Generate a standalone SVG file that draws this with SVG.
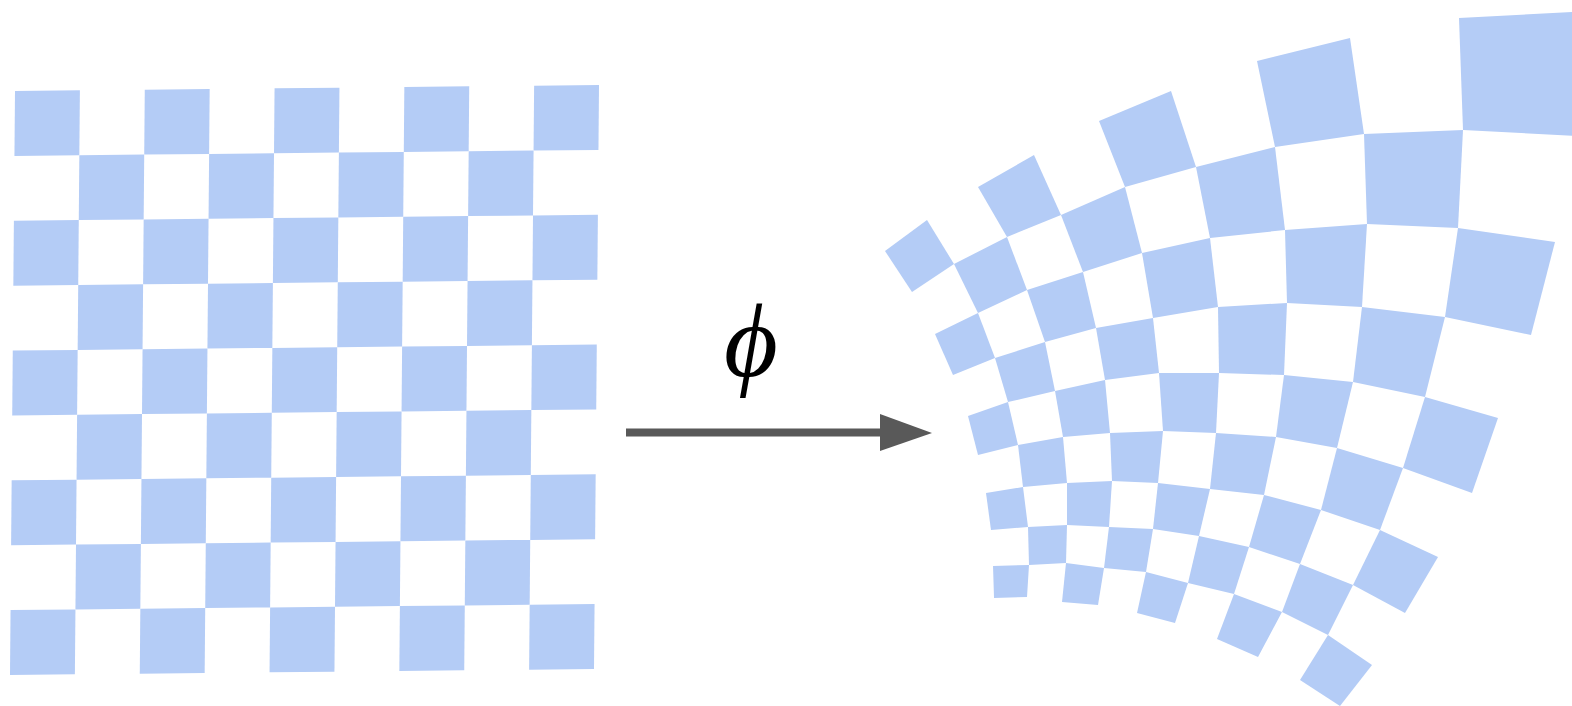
<svg xmlns="http://www.w3.org/2000/svg" width="1572" height="706" viewBox="0 0 1572 706">
<defs>
<style>
.sq{fill:#b4ccf6;stroke:none}
.lbl{font-family:"Liberation Serif","DejaVu Serif",serif;font-style:italic;font-size:104px;fill:#000}
</style>
<marker id="ah" viewBox="0 0 52 37" refX="0" refY="18.5" markerWidth="52" markerHeight="37" markerUnits="userSpaceOnUse" orient="auto">
<path d="M0,0 L52,19 L0,37 Z" fill="#595959"/>
</marker>
</defs>
<rect width="1572" height="706" fill="#fff"/>
<g id="source-grid" transform="matrix(64.89 -0.667 -0.556 64.89 15 91)">
<rect class="sq" x="0" y="0" width="1" height="1"/><rect class="sq" x="2" y="0" width="1" height="1"/><rect class="sq" x="4" y="0" width="1" height="1"/><rect class="sq" x="6" y="0" width="1" height="1"/><rect class="sq" x="8" y="0" width="1" height="1"/>
<rect class="sq" x="1" y="1" width="1" height="1"/><rect class="sq" x="3" y="1" width="1" height="1"/><rect class="sq" x="5" y="1" width="1" height="1"/><rect class="sq" x="7" y="1" width="1" height="1"/>
<rect class="sq" x="0" y="2" width="1" height="1"/><rect class="sq" x="2" y="2" width="1" height="1"/><rect class="sq" x="4" y="2" width="1" height="1"/><rect class="sq" x="6" y="2" width="1" height="1"/><rect class="sq" x="8" y="2" width="1" height="1"/>
<rect class="sq" x="1" y="3" width="1" height="1"/><rect class="sq" x="3" y="3" width="1" height="1"/><rect class="sq" x="5" y="3" width="1" height="1"/><rect class="sq" x="7" y="3" width="1" height="1"/>
<rect class="sq" x="0" y="4" width="1" height="1"/><rect class="sq" x="2" y="4" width="1" height="1"/><rect class="sq" x="4" y="4" width="1" height="1"/><rect class="sq" x="6" y="4" width="1" height="1"/><rect class="sq" x="8" y="4" width="1" height="1"/>
<rect class="sq" x="1" y="5" width="1" height="1"/><rect class="sq" x="3" y="5" width="1" height="1"/><rect class="sq" x="5" y="5" width="1" height="1"/><rect class="sq" x="7" y="5" width="1" height="1"/>
<rect class="sq" x="0" y="6" width="1" height="1"/><rect class="sq" x="2" y="6" width="1" height="1"/><rect class="sq" x="4" y="6" width="1" height="1"/><rect class="sq" x="6" y="6" width="1" height="1"/><rect class="sq" x="8" y="6" width="1" height="1"/>
<rect class="sq" x="1" y="7" width="1" height="1"/><rect class="sq" x="3" y="7" width="1" height="1"/><rect class="sq" x="5" y="7" width="1" height="1"/><rect class="sq" x="7" y="7" width="1" height="1"/>
<rect class="sq" x="0" y="8" width="1" height="1"/><rect class="sq" x="2" y="8" width="1" height="1"/><rect class="sq" x="4" y="8" width="1" height="1"/><rect class="sq" x="6" y="8" width="1" height="1"/><rect class="sq" x="8" y="8" width="1" height="1"/>
</g>
<g id="warped-grid">
<polygon class="sq" points="885,251 927,220 954,264 912,292"/>
<polygon class="sq" points="978,187 1034,155 1061,215 1007,237"/>
<polygon class="sq" points="1099,121 1171,91 1196,167 1125,187"/>
<polygon class="sq" points="1257,61 1350,38 1364,134 1275,147"/>
<polygon class="sq" points="1459,18 1590,11 1576,136 1463,130"/>
<polygon class="sq" points="954,264 1007,237 1027,290 978,313"/>
<polygon class="sq" points="1061,215 1125,187 1142,253 1083,272"/>
<polygon class="sq" points="1196,167 1275,147 1285,230 1210,238"/>
<polygon class="sq" points="1364,134 1463,130 1458,228 1367,224"/>
<polygon class="sq" points="935,334 978,313 995,358 953,375"/>
<polygon class="sq" points="1027,290 1083,272 1096,328 1045,342"/>
<polygon class="sq" points="1142,253 1210,238 1218,307 1153,318"/>
<polygon class="sq" points="1285,230 1367,224 1362,307 1287,303"/>
<polygon class="sq" points="1458,228 1555,242 1531,335 1445,317"/>
<polygon class="sq" points="995,358 1045,342 1055,391 1008,402"/>
<polygon class="sq" points="1096,328 1153,318 1159,373 1105,380"/>
<polygon class="sq" points="1218,307 1287,303 1284,375 1219,373"/>
<polygon class="sq" points="1362,307 1445,317 1425,397 1353,382"/>
<polygon class="sq" points="968,416 1008,402 1018,445 978,455"/>
<polygon class="sq" points="1055,391 1105,380 1110,433 1063,437"/>
<polygon class="sq" points="1159,373 1219,373 1216,433 1163,431"/>
<polygon class="sq" points="1284,375 1353,382 1337,448 1276,437"/>
<polygon class="sq" points="1425,397 1498,418 1472,493 1403,468"/>
<polygon class="sq" points="1018,445 1063,437 1067,483 1023,487"/>
<polygon class="sq" points="1110,433 1163,431 1158,483 1112,481"/>
<polygon class="sq" points="1216,433 1276,437 1264,495 1210,489"/>
<polygon class="sq" points="1337,448 1403,468 1380,530 1321,510"/>
<polygon class="sq" points="986,493 1023,487 1028,527 991,530"/>
<polygon class="sq" points="1067,483 1112,481 1109,527 1067,525"/>
<polygon class="sq" points="1158,483 1210,489 1199,536 1153,529"/>
<polygon class="sq" points="1264,495 1321,510 1300,564 1249,547"/>
<polygon class="sq" points="1380,530 1438,557 1405,613 1353,585"/>
<polygon class="sq" points="1028,527 1067,525 1066,563 1029,565"/>
<polygon class="sq" points="1109,527 1153,529 1146,572 1104,568"/>
<polygon class="sq" points="1199,536 1249,547 1234,594 1188,583"/>
<polygon class="sq" points="1300,564 1353,585 1328,635 1282,612"/>
<polygon class="sq" points="993,566 1029,565 1027,597 994,598"/>
<polygon class="sq" points="1066,563 1104,568 1098,605 1062,602"/>
<polygon class="sq" points="1146,572 1188,583 1175,623 1137,613"/>
<polygon class="sq" points="1234,594 1282,612 1258,657 1217,639"/>
<polygon class="sq" points="1328,635 1372,665 1340,706 1300,680"/>
</g>
<g id="connectors">
<line x1="626" y1="432.5" x2="880" y2="432.5" stroke="#595959" stroke-width="8" marker-end="url(#ah)"/>
</g>
<g id="label">
<text class="lbl" x="751" y="376" text-anchor="middle">ϕ</text>
</g>
</svg>
